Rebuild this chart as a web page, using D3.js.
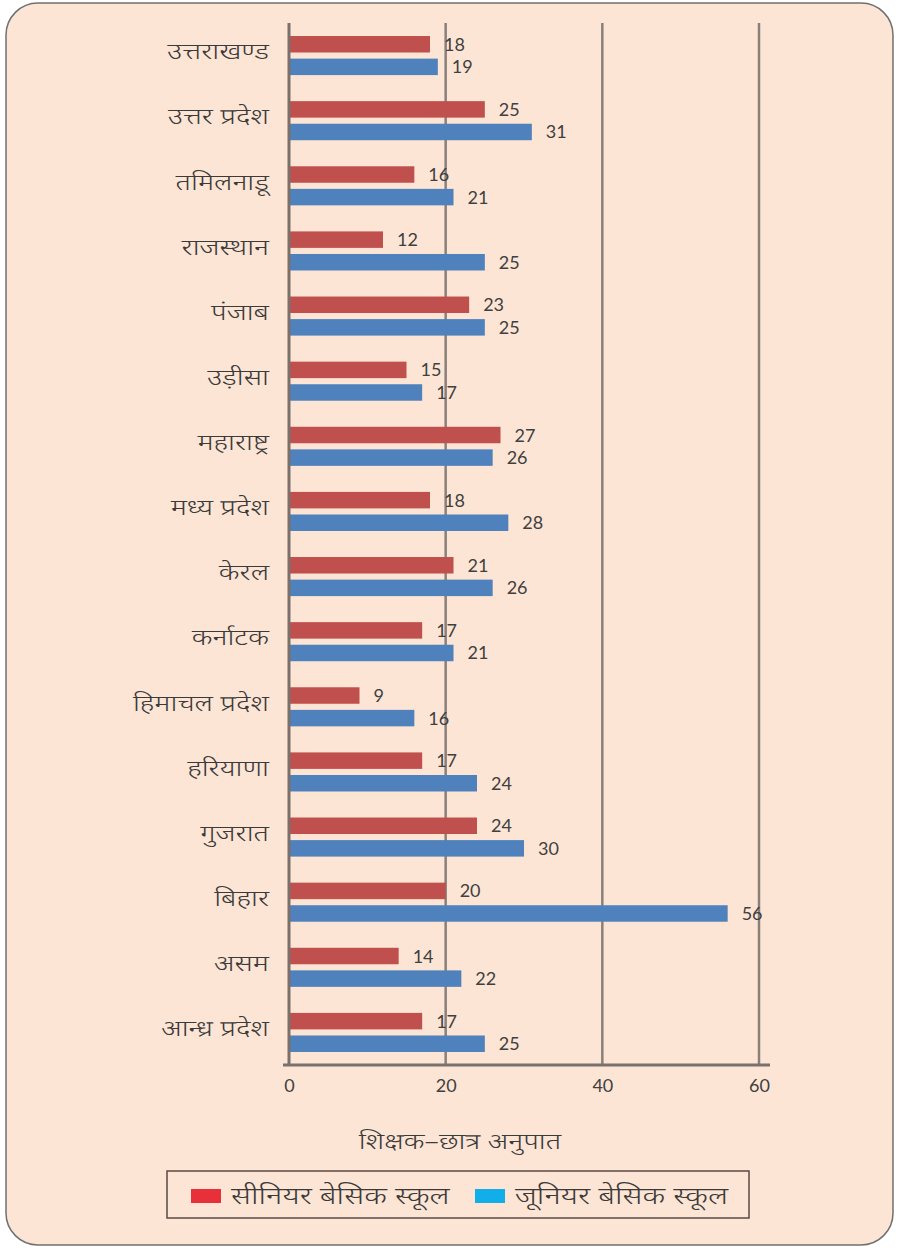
<!DOCTYPE html>
<html>
<head>
<meta charset="utf-8">
<script src="https://cdn.jsdelivr.net/npm/d3@7"></script>
<style>
  html, body { margin: 0; padding: 0; background: #ffffff; }
  svg { display: block; }
</style>
</head>
<body>
<svg id="chart" width="898" height="1248"></svg>
<script>
const categories = ["उत्तराखण्ड", "उत्तर प्रदेश", "तमिलनाडू", "राजस्थान", "पंजाब", "उड़ीसा", "महाराष्ट्र", "मध्य प्रदेश", "केरल", "कर्नाटक", "हिमाचल प्रदेश", "हरियाणा", "गुजरात", "बिहार", "असम", "आन्ध्र प्रदेश"];
const seniorValues = [18, 25, 16, 12, 23, 15, 27, 18, 21, 17, 9, 17, 24, 20, 14, 17];
const juniorValues = [19, 31, 21, 25, 25, 17, 26, 28, 26, 21, 16, 24, 30, 56, 22, 25];
const seriesNames = ["सीनियर बेसिक स्कूल", "जूनियर बेसिक स्कूल"];
const xTicks = [0, 20, 40, 60];
const axisTitle = "शिक्षक–छात्र अनुपात";

const devFont = "'Noto Sans Devanagari', 'Lohit Devanagari', 'Noto Sans', sans-serif";
const numFont = "Lato, 'Open Sans', sans-serif";
const barColors = ["#c0504d", "#4f81bd"];
const legendColors = ["#e8303a", "#12aeea"];
const stretch = 1.3;

const svg = d3.select("#chart");

// background panel
svg.append("rect")
  .attr("x", 6).attr("y", 3).attr("width", 887).attr("height", 1242)
  .attr("rx", 32).attr("ry", 32)
  .attr("fill", "#fde5d5").attr("stroke", "#707070").attr("stroke-width", 1.5);

const x = d3.scaleLinear().domain([0, 60]).range([289, 759]);
const y = d3.scaleBand().domain(categories).range([23, 1065]).paddingInner(0.4).paddingOuter(0.2);
const yInner = d3.scaleBand().domain([0, 1]).range([0, y.bandwidth()]).paddingInner(0.27).paddingOuter(0);

// gridlines
svg.append("g").selectAll("line").data(xTicks.slice(1)).join("line")
  .attr("x1", d => x(d)).attr("x2", d => x(d))
  .attr("y1", 23).attr("y2", 1065)
  .attr("stroke", "#8a807a").attr("stroke-width", 2.5);

// bars
const series = [seniorValues, juniorValues];
const groups = svg.append("g").selectAll("g").data(categories).join("g")
  .attr("transform", d => `translate(0,${y(d)})`);

groups.each(function(cat, i) {
  const g = d3.select(this);
  series.forEach((vals, s) => {
    g.append("rect")
      .attr("x", x(0)).attr("y", yInner(s))
      .attr("width", x(vals[i]) - x(0)).attr("height", yInner.bandwidth())
      .attr("fill", barColors[s]);
    g.append("text")
      .attr("x", x(vals[i]) + 14).attr("y", yInner(s) + yInner.bandwidth() / 2)
      .attr("dy", "0.36em")
      .attr("font-family", numFont).attr("font-size", 18)
      .attr("fill", "#404040")
      .text(vals[i]);
  });
});

// category labels
svg.append("g").selectAll("text").data(categories).join("text")
  .attr("transform", d => `translate(269,${y(d) + y.bandwidth() / 2 - 4}) scale(${stretch},1)`)
  .attr("dy", "0.35em")
  .attr("text-anchor", "end")
  .attr("font-family", devFont).attr("font-size", 22).attr("font-weight", 300)
  .attr("fill", "#3a3a3a")
  .text(d => d);

// left axis line
svg.append("line")
  .attr("x1", x(0)).attr("x2", x(0)).attr("y1", 23).attr("y2", 1066)
  .attr("stroke", "#7a716c").attr("stroke-width", 3);

// bottom axis line
svg.append("line")
  .attr("x1", 283).attr("x2", 770).attr("y1", 1065).attr("y2", 1065)
  .attr("stroke", "#7a716c").attr("stroke-width", 3);

// x tick labels
const xAxis = d3.axisBottom(x).tickValues(xTicks).tickSize(0).tickPadding(14);
const ax = svg.append("g").attr("transform", "translate(0,1065)").call(xAxis);
ax.select(".domain").remove();
ax.selectAll("text").attr("font-family", numFont).attr("font-size", 18).attr("fill", "#404040");

// axis title
svg.append("text")
  .attr("transform", `translate(460,1141) scale(${stretch},1)`)
  .attr("dy", "0.35em")
  .attr("text-anchor", "middle")
  .attr("font-family", devFont).attr("font-size", 22).attr("font-weight", 300)
  .attr("fill", "#3a3a3a")
  .text(axisTitle);

// legend
svg.append("rect")
  .attr("x", 167).attr("y", 1171).attr("width", 582).attr("height", 47)
  .attr("fill", "none").attr("stroke", "#5a4a44").attr("stroke-width", 1.5);

const legendX = [191, 475];
const legend = svg.append("g").selectAll("g").data(seriesNames).join("g")
  .attr("transform", (d, i) => `translate(${legendX[i]},1189)`);
legend.append("rect").attr("width", 30).attr("height", 14).attr("fill", (d, i) => legendColors[i]);
legend.append("text")
  .attr("transform", `translate(40,7) scale(${stretch},1)`)
  .attr("dy", "0.35em")
  .attr("font-family", devFont).attr("font-size", 24).attr("font-weight", 300)
  .attr("fill", "#3a3a3a")
  .text(d => d);
</script>
</body>
</html>
